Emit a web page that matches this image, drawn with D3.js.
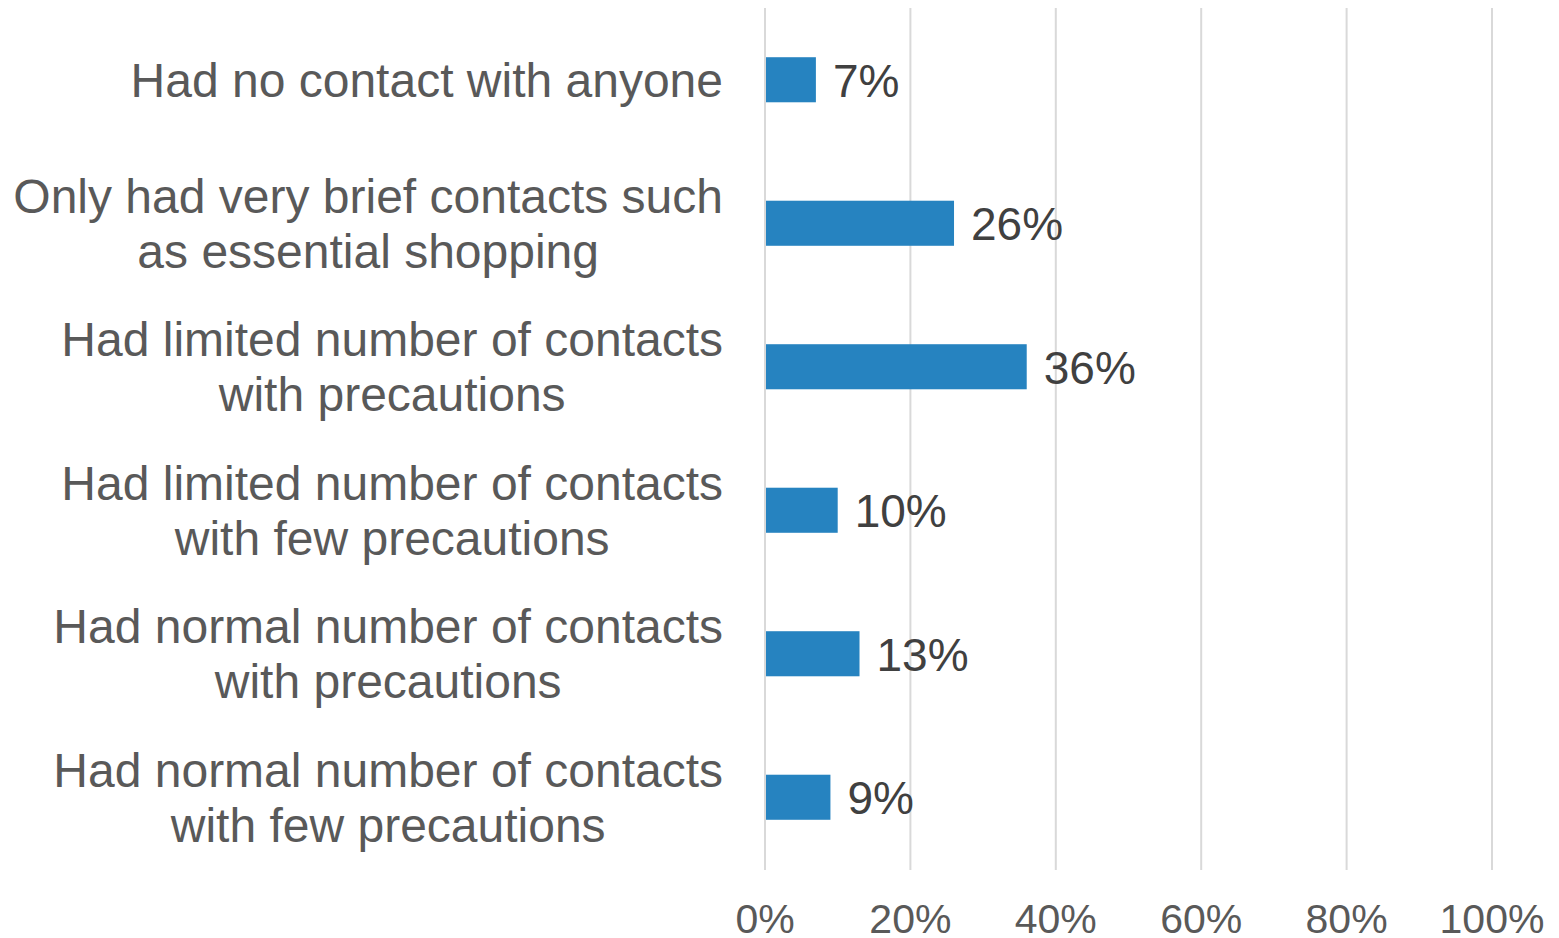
<!DOCTYPE html>
<html>
<head>
<meta charset="utf-8">
<script src="https://cdn.jsdelivr.net/npm/d3@7"></script>
<style>
  body { margin: 0; background: #fff; }
  text { font-family: "Liberation Sans", Arial, sans-serif; }
</style>
</head>
<body>
<div id="chart"></div>
<script>
// data
var categories = [
  ["Had no contact with anyone"],
  ["Only had very brief contacts such", "as essential shopping"],
  ["Had limited number of contacts", "with precautions"],
  ["Had limited number of contacts", "with few precautions"],
  ["Had normal number of contacts", "with precautions"],
  ["Had normal number of contacts", "with few precautions"]
];
var values = [7, 26, 36, 10, 13, 9];
var ticks = [0, 20, 40, 60, 80, 100];

var W = 1559, H = 938,
  margin = {t: 8, l: 765, r: 67, b: 69},
  w = W - margin.l - margin.r,
  h = H - margin.t - margin.b;

var x = d3.scaleLinear().domain([0, 100]).range([0, w]);
var y = d3.scaleBand().domain(d3.range(categories.length)).range([0, h]).paddingInner(0.686).paddingOuter(0.343);

var svg = d3.select("#chart").append("svg")
  .attr("width", W)
  .attr("height", H);

var g = svg.append("g").attr("transform", "translate(" + margin.l + "," + margin.t + ")");

// gridlines
g.selectAll(".grid")
  .data(ticks)
  .enter().append("line")
  .attr("x1", function(d) { return x(d); })
  .attr("x2", function(d) { return x(d); })
  .attr("y1", 0)
  .attr("y2", h + 1)
  .style("stroke", "#d9d9d9")
  .style("stroke-width", 2);

// bars
g.selectAll(".bar")
  .data(values)
  .enter().append("rect")
  .attr("x", x(0) + 1)
  .attr("y", function(d, i) { return y(i); })
  .attr("width", function(d) { return x(d) - x(0) - 1; })
  .attr("height", y.bandwidth())
  .style("fill", "#2683c0");

// data labels
g.selectAll(".val")
  .data(values)
  .enter().append("text")
  .attr("x", function(d) { return x(d) + 17; })
  .attr("y", function(d, i) { return y(i) + y.bandwidth() / 2 + 17; })
  .style("font-size", "46px")
  .style("fill", "#404040")
  .text(function(d) { return d + "%"; });

// tick labels
g.selectAll(".tick")
  .data(ticks)
  .enter().append("text")
  .attr("x", function(d) { return x(d); })
  .attr("y", h + 64)
  .attr("text-anchor", "middle")
  .style("font-size", "41px")
  .style("fill", "#595959")
  .text(function(d) { return d + "%"; });

// category labels: block right aligned, lines centred within the block
var lineH = 55, labelRight = -42;
categories.forEach(function(lines, i) {
  var cy = y(i) + y.bandwidth() / 2;
  var lab = g.append("text")
    .attr("text-anchor", "middle")
    .style("font-size", "48px")
    .style("fill", "#595959");
  var spans = lab.selectAll("tspan")
    .data(lines)
    .enter().append("tspan")
    .attr("y", function(d, j) { return cy + 17 + (j - (lines.length - 1) / 2) * lineH; })
    .text(function(d) { return d; });
  var maxW = 0;
  spans.each(function() { maxW = Math.max(maxW, this.getComputedTextLength()); });
  spans.attr("x", labelRight - maxW / 2);
});
</script>
</body>
</html>
